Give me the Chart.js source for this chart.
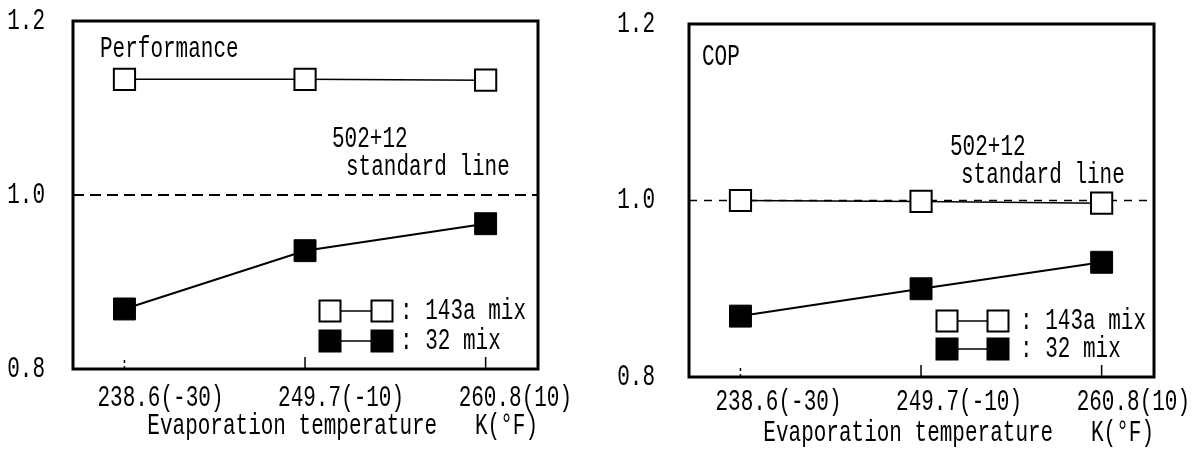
<!DOCTYPE html>
<html><head><meta charset="utf-8">
<script src="https://cdn.jsdelivr.net/npm/chart.js@4.4.1/dist/chart.umd.min.js"></script>
<style>
html,body{margin:0;padding:0;background:#fff;}
#wrap{position:relative;width:1196px;height:453px;overflow:hidden;background:#fff;}
.c{position:absolute;top:0;}
</style></head><body>
<div id="wrap">
<canvas id="perf" class="c" style="left:0px" width="600" height="453"></canvas>
<canvas id="cop" class="c" style="left:598px" width="598" height="453"></canvas>
</div>
<script>
// ---- data ----
const categories = ['238.6(-30)', '249.7(-10)', '260.8(10)'];
const yTickValues = [0.8, 1.0, 1.2];
const yTickLabels = ['0.8', '1.0', '1.2'];
const perf143a = [1.133, 1.133, 1.132];
const perf32 = [0.869, 0.936, 0.967];
const cop143a = [1.000, 0.999, 0.997];
const cop32 = [0.869, 0.900, 0.930];
const standardValue = 1.0;
const seriesNames = ['143a mix', '32 mix'];
const xTitle = 'Evaporation temperature   K(\u00B0F)';
const panelLabels = ['Performance', 'COP'];
const standardLabel = ['502+12', 'standard line'];

// ---- styling ----
const FONT = '"Liberation Mono", "DejaVu Sans Mono", monospace';
const FS = 21;
const SY = 1.4;
const X_MIN = -0.285, X_MAX = 2.29;

function stretchText(canvas) {
  const ctx = canvas.getContext('2d');
  const orig = ctx.fillText.bind(ctx);
  ctx.fillText = function (t, x, y, ...rest) {
    ctx.save();
    ctx.translate(x, y);
    ctx.scale(1, SY);
    orig(t, 0, 0, ...rest);
    ctx.restore();
  };
  return ctx;
}

function drawSquare(ctx, cx, cy, s, filled) {
  ctx.beginPath();
  ctx.rect(cx - s / 2, cy - s / 2, s, s);
  ctx.fillStyle = filled ? '#000' : '#fff';
  ctx.fill();
  ctx.lineWidth = 2;
  ctx.strokeStyle = '#000';
  ctx.stroke();
}

const decorPlugin = {
  id: 'decor',
  afterDatasetsDraw(chart, args, o) {
    const { ctx, chartArea: a, scales: { x } } = chart;
    ctx.save();
    // frame
    ctx.strokeStyle = '#000';
    ctx.lineWidth = 3;
    ctx.strokeRect(a.left, a.top, a.right - a.left, a.bottom - a.top);
    // inner tick marks
    ctx.lineWidth = 1.5;
    categories.forEach((c, i) => {
      const px = x.getPixelForValue(i);
      ctx.setLineDash(i === 0 ? [3, 3] : []);
      ctx.beginPath();
      ctx.moveTo(px, a.bottom);
      ctx.lineTo(px, a.bottom - 12);
      ctx.stroke();
    });
    ctx.setLineDash([]);
    // texts
    ctx.fillStyle = '#000';
    ctx.font = FS + 'px ' + FONT;
    ctx.textBaseline = 'middle';
    ctx.textAlign = 'left';
    o.texts.forEach(t => ctx.fillText(t.text, t.x, t.y));
    // legend
    o.legend.forEach((row, i) => {
      const filled = i === 1;
      ctx.strokeStyle = '#000';
      ctx.lineWidth = 1.5;
      ctx.beginPath();
      ctx.moveTo(row.x1, row.y);
      ctx.lineTo(row.x2, row.y);
      ctx.stroke();
      drawSquare(ctx, row.x1, row.y, 21, filled);
      drawSquare(ctx, row.x2, row.y, 21, filled);
      ctx.fillStyle = '#000';
      ctx.fillText(': ' + seriesNames[i], row.tx, row.y);
    });
    ctx.restore();
  }
};

function makeChart(id, s143, s32, cfg) {
  const canvas = document.getElementById(id);
  const ctx = stretchText(canvas);
  return new Chart(ctx, {
    type: 'line',
    data: {
      datasets: [
        {
          label: seriesNames[0],
          data: s143.map((v, i) => ({ x: i, y: v })),
          borderColor: '#000', borderWidth: 1.5,
          pointStyle: 'rect', pointRadius: 15, pointBorderWidth: 2,
          pointBackgroundColor: '#fff', pointBorderColor: '#000',
          order: 1
        },
        {
          label: seriesNames[1],
          data: s32.map((v, i) => ({ x: i, y: v })),
          borderColor: '#000', borderWidth: 2,
          pointStyle: 'rect', pointRadius: 15.5, pointBorderWidth: 1,
          pointBackgroundColor: '#000', pointBorderColor: '#000',
          order: 2
        },
        {
          label: 'standard',
          data: [{ x: X_MIN, y: standardValue }, { x: X_MAX, y: standardValue }],
          borderColor: '#000', borderWidth: cfg.stdWidth, borderDash: cfg.stdDash,
          pointRadius: 0,
          order: 3
        }
      ]
    },
    options: {
      responsive: false,
      animation: false,
      events: [],
      layout: { padding: { left: 0, top: cfg.top, right: cfg.right, bottom: 0 } },
      plugins: {
        legend: { display: false },
        tooltip: { enabled: false },
        decor: { texts: cfg.texts, legend: cfg.legend }
      },
      scales: {
        x: {
          type: 'linear', min: X_MIN, max: X_MAX,
          grid: { display: false },
          border: { display: false },
          afterBuildTicks: s => { s.ticks = categories.map((c, i) => ({ value: i })); },
          afterFit: s => { s.height = cfg.xHeight; s.paddingLeft = 0; s.paddingRight = 0; },
          ticks: {
            color: '#000', font: { family: FONT, size: FS },
            padding: cfg.xPad, align: 'start', labelOffset: cfg.labelOffset,
            maxRotation: 0, autoSkip: false,
            callback: v => categories[v]
          },
          title: {
            display: true, text: xTitle, align: 'end', color: '#000',
            font: { family: FONT, size: FS },
            padding: { top: 0, bottom: cfg.titlePad }
          }
        },
        y: {
          min: 0.8, max: 1.2,
          grid: { display: false },
          border: { display: false },
          afterBuildTicks: s => { s.ticks = yTickValues.map(v => ({ value: v })); },
          afterFit: s => { s.width = cfg.yWidth; s.paddingTop = 0; s.paddingBottom = 0; },
          ticks: {
            color: '#000', font: { family: FONT, size: FS },
            padding: cfg.yPad,
            callback: (v) => yTickLabels[yTickValues.findIndex(t => Math.abs(t - v) < 1e-6)]
          }
        }
      }
    },
    plugins: [decorPlugin]
  });
}

makeChart('perf', perf143a, perf32, {
  top: 21, right: 62, xHeight: 84, yWidth: 73, yPad: 20, xPad: 9, titlePad: 14,
  labelOffset: -27,
  stdWidth: 2, stdDash: [11, 6],
  texts: [
    { text: panelLabels[0], x: 100, y: 49 },
    { text: standardLabel[0], x: 332, y: 139 },
    { text: standardLabel[1], x: 346, y: 167 }
  ],
  legend: [
    { x1: 330, x2: 382, tx: 400, y: 311 },
    { x1: 330, x2: 382, tx: 400, y: 341 }
  ]
});

makeChart('cop', cop143a, cop32, {
  top: 24, right: 42, xHeight: 76, yWidth: 91, yPad: 26, xPad: 5, titlePad: 7,
  labelOffset: -25,
  stdWidth: 1.5, stdDash: [8, 7],
  texts: [
    { text: panelLabels[1], x: 104, y: 57 },
    { text: standardLabel[0], x: 352, y: 147 },
    { text: standardLabel[1], x: 363, y: 175 }
  ],
  legend: [
    { x1: 349, x2: 400, tx: 422, y: 321 },
    { x1: 349, x2: 400, tx: 422, y: 349 }
  ]
});
</script>
</body></html>
